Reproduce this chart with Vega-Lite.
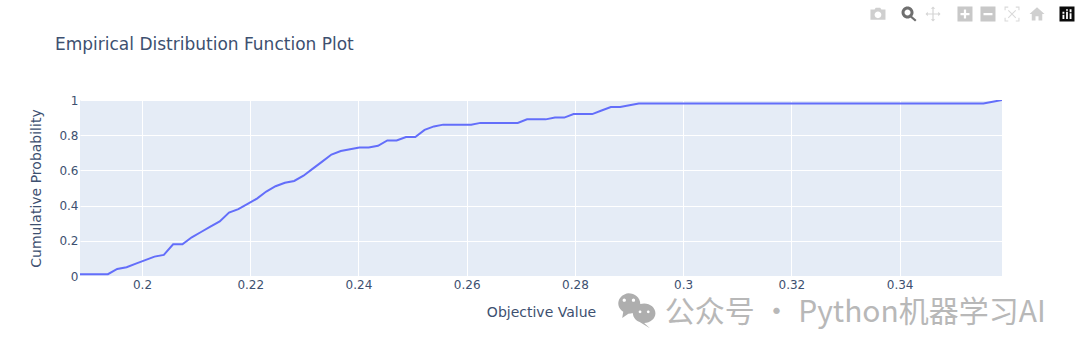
{"$schema":"https://vega.github.io/schema/vega-lite/v6.json","width":922,"height":176,"autosize":"none","padding":{"left":80,"top":100,"right":78,"bottom":79},"background":"white","title":{"text":"Empirical Distribution Function Plot","anchor":"start","frame":"group","dx":-25,"offset":-47,"font":"DejaVu Sans","fontSize":17,"fontWeight":"normal","color":"#3d5070"},"config":{"view":{"fill":"#E5ECF6","stroke":null}},"datasets":{"ecdf":[{"x":0.18854,"y":0.01},{"x":0.19026,"y":0.01},{"x":0.19198,"y":0.01},{"x":0.1937,"y":0.01},{"x":0.19542,"y":0.04},{"x":0.19715,"y":0.05},{"x":0.19887,"y":0.07},{"x":0.20059,"y":0.09},{"x":0.20231,"y":0.11},{"x":0.20403,"y":0.12},{"x":0.20575,"y":0.18},{"x":0.20747,"y":0.18},{"x":0.20919,"y":0.22},{"x":0.21091,"y":0.25},{"x":0.21263,"y":0.28},{"x":0.21436,"y":0.31},{"x":0.21608,"y":0.36},{"x":0.2178,"y":0.38},{"x":0.21952,"y":0.41},{"x":0.22124,"y":0.44},{"x":0.22296,"y":0.48},{"x":0.22468,"y":0.51},{"x":0.2264,"y":0.53},{"x":0.22812,"y":0.54},{"x":0.22984,"y":0.57},{"x":0.23157,"y":0.61},{"x":0.23329,"y":0.65},{"x":0.23501,"y":0.69},{"x":0.23673,"y":0.71},{"x":0.23845,"y":0.72},{"x":0.24017,"y":0.73},{"x":0.24189,"y":0.73},{"x":0.24361,"y":0.74},{"x":0.24533,"y":0.77},{"x":0.24705,"y":0.77},{"x":0.24878,"y":0.79},{"x":0.2505,"y":0.79},{"x":0.25222,"y":0.83},{"x":0.25394,"y":0.85},{"x":0.25566,"y":0.86},{"x":0.25738,"y":0.86},{"x":0.2591,"y":0.86},{"x":0.26082,"y":0.86},{"x":0.26254,"y":0.87},{"x":0.26426,"y":0.87},{"x":0.26599,"y":0.87},{"x":0.26771,"y":0.87},{"x":0.26943,"y":0.87},{"x":0.27115,"y":0.89},{"x":0.27287,"y":0.89},{"x":0.27459,"y":0.89},{"x":0.27631,"y":0.9},{"x":0.27803,"y":0.9},{"x":0.27975,"y":0.92},{"x":0.28147,"y":0.92},{"x":0.2832,"y":0.92},{"x":0.28492,"y":0.94},{"x":0.28664,"y":0.96},{"x":0.28836,"y":0.96},{"x":0.29008,"y":0.97},{"x":0.2918,"y":0.98},{"x":0.29352,"y":0.98},{"x":0.29524,"y":0.98},{"x":0.29696,"y":0.98},{"x":0.29868,"y":0.98},{"x":0.30041,"y":0.98},{"x":0.30213,"y":0.98},{"x":0.30385,"y":0.98},{"x":0.30557,"y":0.98},{"x":0.30729,"y":0.98},{"x":0.30901,"y":0.98},{"x":0.31073,"y":0.98},{"x":0.31245,"y":0.98},{"x":0.31417,"y":0.98},{"x":0.31589,"y":0.98},{"x":0.31762,"y":0.98},{"x":0.31934,"y":0.98},{"x":0.32106,"y":0.98},{"x":0.32278,"y":0.98},{"x":0.3245,"y":0.98},{"x":0.32622,"y":0.98},{"x":0.32794,"y":0.98},{"x":0.32966,"y":0.98},{"x":0.33138,"y":0.98},{"x":0.3331,"y":0.98},{"x":0.33483,"y":0.98},{"x":0.33655,"y":0.98},{"x":0.33827,"y":0.98},{"x":0.33999,"y":0.98},{"x":0.34171,"y":0.98},{"x":0.34343,"y":0.98},{"x":0.34515,"y":0.98},{"x":0.34687,"y":0.98},{"x":0.34859,"y":0.98},{"x":0.35031,"y":0.98},{"x":0.35204,"y":0.98},{"x":0.35376,"y":0.98},{"x":0.35548,"y":0.98},{"x":0.3572,"y":0.99},{"x":0.35892,"y":1}]},"encoding":{"x":{"field":"x","type":"quantitative","scale":{"domain":[0.18854,0.35892],"nice":false,"zero":false},"axis":{"title":"Objective Value","values":[0.2,0.22,0.24,0.26,0.28,0.3,0.32,0.34],"labelExpr":"format(datum.value,'~g')","grid":true,"gridColor":"white","gridWidth":1,"domain":false,"ticks":false,"labelPadding":3,"labelFont":"DejaVu Sans","labelFontSize":12,"labelColor":"#3d5070","labelFlush":false,"labelOverlap":false,"titleFont":"DejaVu Sans","titleFontSize":14,"titleFontWeight":"normal","titleColor":"#3d5070","titlePadding":15}},"y":{"field":"y","type":"quantitative","scale":{"domain":[0,1],"nice":false},"axis":{"title":"Cumulative Probability","values":[0,0.2,0.4,0.6,0.8,1],"labelExpr":"format(datum.value,'~g')","grid":true,"gridColor":"white","gridWidth":1,"domain":false,"ticks":false,"labelPadding":2,"labelFont":"DejaVu Sans","labelFontSize":12,"labelColor":"#3d5070","labelFlush":false,"labelOverlap":false,"titleFont":"DejaVu Sans","titleFontSize":14,"titleFontWeight":"normal","titleColor":"#3d5070","titlePadding":15}}},"layer":[{"data":{"name":"ecdf"},"mark":{"type":"line","color":"#636efa","strokeWidth":2,"interpolate":"linear","clip":true}},{"data":{"values":[{"x":0.2966,"y":-0.21,"t":"公众号 · Python机器学习AI"}]},"mark":{"type":"text","align":"left","baseline":"middle","font":"Noto Sans CJK SC","fontSize":30,"color":"#b8b8b8"},"encoding":{"text":{"field":"t"}}},{"data":{"values":[{"x":0.2912,"y":-0.186,"icon":"wechat"}]},"mark":{"type":"point","filled":true,"opacity":1,"size":1681,"color":"#aeaeae","shape":"M-0.35 -0.75A0.58 0.5 0 1 1 -0.35 0.25L-0.65 0.45L-0.6 0.15A0.58 0.5 0 0 1 -0.35 -0.75Z M-0.55 -0.5A0.08 0.08 0 1 0 -0.55 -0.34A0.08 0.08 0 1 0 -0.55 -0.5Z M-0.1 -0.5A0.08 0.08 0 1 0 -0.1 -0.34A0.08 0.08 0 1 0 -0.1 -0.5Z M0.42 -0.25A0.55 0.47 0 1 1 0.42 0.69L0.7 0.95L0.2 0.65A0.55 0.47 0 0 1 0.42 -0.25Z M0.22 0.08A0.07 0.07 0 1 0 0.22 0.22A0.07 0.07 0 1 0 0.22 0.08Z M0.62 0.08A0.07 0.07 0 1 0 0.62 0.22A0.07 0.07 0 1 0 0.62 0.08Z"}},{"data":{"values":[{"x":0.336,"y":1.4886,"icon":"camera"},{"x":0.34174,"y":1.4886,"icon":"zoom"},{"x":0.34617,"y":1.4886,"icon":"pan"},{"x":0.35208,"y":1.4886,"icon":"plus"},{"x":0.35633,"y":1.4886,"icon":"minus"},{"x":0.36077,"y":1.4886,"icon":"autoscale"},{"x":0.36539,"y":1.4886,"icon":"home"},{"x":0.37093,"y":1.4886,"icon":"logo"}]},"mark":{"type":"point","filled":true,"opacity":1,"size":225},"encoding":{"shape":{"field":"icon","type":"nominal","legend":null,"scale":{"domain":["camera","zoom","pan","plus","minus","autoscale","home","logo"],"range":["M-1 -0.6H-0.45L-0.3 -0.85H0.3L0.45 -0.6H1V0.75H-1Z M0 -0.35A0.45 0.45 0 1 0 0 0.55A0.45 0.45 0 1 0 0 -0.35Z","M-0.2 -1A0.8 0.8 0 1 1 -0.2 0.6A0.8 0.8 0 1 1 -0.2 -1Z M-0.2 -0.6A0.4 0.4 0 1 0 -0.2 0.2A0.4 0.4 0 1 0 -0.2 -0.6Z M0.3 0.2L1 0.8L0.8 1L0.1 0.4Z","M0 -1L0.3 -0.7H0.08V-0.08H0.7V-0.3L1 0L0.7 0.3V0.08H0.08V0.7H0.3L0 1L-0.3 0.7H-0.08V0.08H-0.7V0.3L-1 0L-0.7 -0.3V-0.08H-0.08V-0.7H-0.3Z","M-1 -1H1V1H-1Z M-0.15 -0.6V-0.15H-0.6V0.15H-0.15V0.6H0.15V0.15H0.6V-0.15H0.15V-0.6Z","M-1 -1H1V1H-1Z M-0.6 -0.15V0.15H0.6V-0.15Z","M-1 -1H-0.5V-0.85H-0.85V-0.5H-1Z M1 -1V-0.5H0.85V-0.85H0.5V-1Z M1 1H0.5V0.85H0.85V0.5H1Z M-1 1V0.5H-0.85V0.85H-0.5V1Z M-0.55 -0.45L-0.45 -0.55L0 -0.1L0.45 -0.55L0.55 -0.45L0.1 0L0.55 0.45L0.45 0.55L0 0.1L-0.45 0.55L-0.55 0.45L-0.1 0Z","M0 -0.9L1 0H0.7V0.85H0.2V0.3H-0.2V0.85H-0.7V0H-1Z","M-1 -1H1V1H-1Z M-0.6 0.65H-0.35V0.1H-0.6Z M-0.12 0.65H0.12V-0.3H-0.12Z M-0.12 -0.45H0.12V-0.65H-0.12Z M0.35 0.65H0.6V-0.1H0.35Z M0.35 -0.25H0.6V-0.65H0.35Z M-0.6 -0.05H-0.35V-0.3H-0.6Z"]}},"color":{"field":"icon","type":"nominal","legend":null,"scale":{"domain":["camera","zoom","pan","plus","minus","autoscale","home","logo"],"range":["#cfcfcf","#6f6f6f","#d5d5d5","#c8c8c8","#c8c8c8","#dadada","#d0d0d0","#0a0a0a"]}}}}]}
